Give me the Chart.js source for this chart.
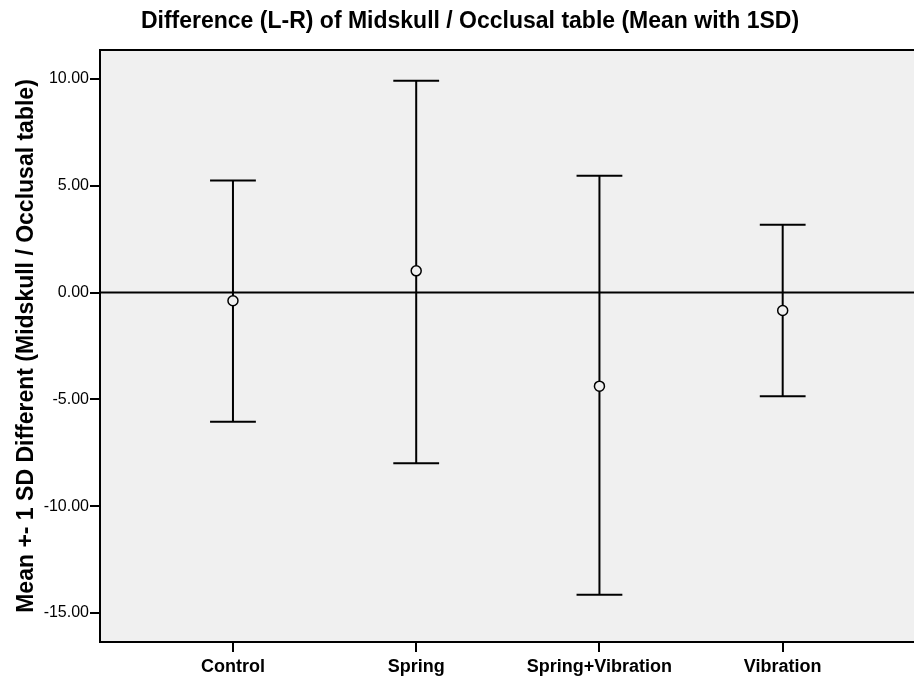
<!DOCTYPE html>
<html>
<head>
<meta charset="utf-8">
<script src="https://cdn.jsdelivr.net/npm/chart.js@4.4.1/dist/chart.umd.min.js"></script>
<style>
    html, body { margin: 0; padding: 0; background: #fff; overflow: hidden; }
    #wrap { width: 940px; height: 682px; position: relative; }
</style>
</head>
<body>
<div id="wrap"><canvas id="errorChart"></canvas></div>
<script>
const groups = ["Control", "Spring", "Spring+Vibration", "Vibration"];
const means = [-0.38, 1.02, -4.38, -0.84];
const upperSD = [5.25, 9.92, 5.47, 3.18];
const lowerSD = [-6.05, -7.99, -14.15, -4.85];
const yTicks = [-15, -10, -5, 0, 5, 10];

// background, frame, zero line and the error bars (drawn under the mean circles)
const errorBarPlugin = {
    id: "errorBars",
    beforeDatasetsDraw(chart) {
        const { ctx, chartArea, scales } = chart;
        const x = scales.x;
        const y = scales.y;
        ctx.save();
        ctx.strokeStyle = "#000";
        ctx.lineWidth = 2;

        // reference line at 0
        ctx.beginPath();
        ctx.moveTo(chartArea.left, y.getPixelForValue(0));
        ctx.lineTo(chartArea.right, y.getPixelForValue(0));
        ctx.stroke();

        const capHalf = 0.125; // in category units
        groups.forEach((g, i) => {
            const px = x.getPixelForValue(i);
            const top = y.getPixelForValue(upperSD[i]);
            const bot = y.getPixelForValue(lowerSD[i]);
            ctx.beginPath();
            ctx.moveTo(px, top);
            ctx.lineTo(px, bot);
            ctx.moveTo(x.getPixelForValue(i - capHalf), top);
            ctx.lineTo(x.getPixelForValue(i + capHalf), top);
            ctx.moveTo(x.getPixelForValue(i - capHalf), bot);
            ctx.lineTo(x.getPixelForValue(i + capHalf), bot);
            ctx.stroke();
        });
        ctx.restore();
    },
    beforeDraw(chart) {
        const { ctx, chartArea } = chart;
        ctx.save();
        ctx.fillStyle = "#f0f0f0";
        ctx.fillRect(chartArea.left, chartArea.top, chartArea.width, chartArea.height);
        ctx.restore();
    },
    afterDraw(chart) {
        const { ctx, chartArea } = chart;
        ctx.save();
        ctx.strokeStyle = "#000";
        ctx.lineWidth = 2;
        ctx.strokeRect(chartArea.left, chartArea.top, chartArea.width, chartArea.height);
        ctx.restore();
    },
};

Chart.defaults.font.family = "'Liberation Sans', Arial, sans-serif";
Chart.defaults.color = "#000";

const ctx = document.getElementById("errorChart").getContext("2d");
new Chart(ctx, {
    type: "scatter",
    data: {
        datasets: [
            {
                label: "Mean",
                data: means.map((m, i) => ({ x: i, y: m })),
                pointStyle: "circle",
                pointRadius: 5,
                pointHoverRadius: 5,
                borderColor: "#000",
                backgroundColor: "#f0f0f0",
                borderWidth: 1.5,
            },
        ],
    },
    options: {
        responsive: true,
        maintainAspectRatio: false,
        animation: false,
        layout: { padding: 0 },
        scales: {
            x: {
                type: "linear",
                min: -0.7256,
                max: 3.823,
                afterBuildTicks: (scale) => {
                    scale.ticks = groups.map((g, i) => ({ value: i }));
                },
                afterFit: (scale) => {
                    scale.height = 40;
                },
                ticks: {
                    callback: (v) => groups[v],
                    font: { size: 18, weight: "bold" },
                    padding: 4,
                    maxRotation: 0,
                    autoSkip: false,
                },
                grid: {
                    drawOnChartArea: false,
                    color: "#000",
                    lineWidth: 2,
                    tickLength: 10,
                },
                border: { display: false },
            },
            y: {
                min: -16.36,
                max: 11.36,
                afterBuildTicks: (scale) => {
                    scale.ticks = yTicks.map((v) => ({ value: v }));
                },
                afterFit: (scale) => {
                    scale.width = 100;
                },
                ticks: {
                    callback: (v) => v.toFixed(2),
                    font: { size: 16 },
                    padding: 1,
                },
                grid: {
                    drawOnChartArea: false,
                    color: "#000",
                    lineWidth: 2,
                    tickLength: 10,
                },
                border: { display: false },
                title: {
                    display: true,
                    text: "Mean +- 1 SD Different (Midskull / Occlusal table)",
                    font: { size: 23, weight: "bold" },
                    padding: { top: 12.5, bottom: 0 },
                },
            },
        },
        plugins: {
            legend: { display: false },
            tooltip: { enabled: false },
            title: {
                display: true,
                text: "Difference (L-R) of Midskull / Occlusal table (Mean with 1SD)",
                font: { size: 23, weight: "bold" },
                padding: { top: 8, bottom: 14.4 },
            },
        },
    },
    plugins: [errorBarPlugin],
});
</script>
</body>
</html>
